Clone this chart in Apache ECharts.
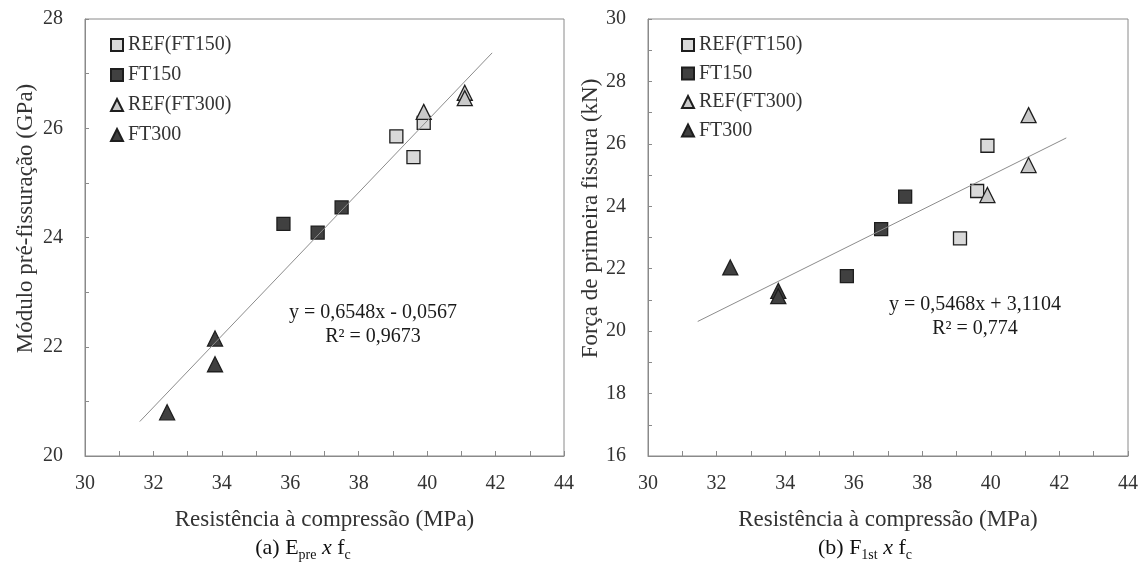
<!DOCTYPE html>
<html>
<head>
<meta charset="utf-8">
<script src="https://cdn.jsdelivr.net/npm/echarts@6/dist/echarts.min.js"></script>
<style>
html,body{margin:0;padding:0;background:#fff;}
#chart{width:1145px;height:562px;}
</style>
</head>
<body>
<div id="chart"></div>
<script>
// ---- data ----
const seriesNames = ['REF(FT150)', 'FT150', 'REF(FT300)', 'FT300'];

// (a) E_pre x f_c
const eRefFT150X = [39.1, 39.6, 39.9];
const eRefFT150Y = [25.85, 25.47, 26.10];
const eFT150X = [35.8, 36.8, 37.5];
const eFT150Y = [24.25, 24.09, 24.55];
const eRefFT300X = [39.9, 41.1, 41.1];
const eRefFT300Y = [26.30, 26.65, 26.55];
const eFT300X = [33.8, 33.8, 32.4];
const eFT300Y = [22.15, 21.68, 20.80];
const eTrendX = [31.6, 41.9];
const eTrendY = [20.63, 27.38];

// (b) F_1st x f_c
const fRefFT150X = [39.9, 39.6, 39.1];
const fRefFT150Y = [25.94, 24.49, 22.97];
const fFT150X = [37.5, 36.8, 35.8];
const fFT150Y = [24.31, 23.27, 21.76];
const fRefFT300X = [41.1, 41.1, 39.9];
const fRefFT300Y = [26.92, 25.32, 24.36];
const fFT300X = [32.4, 33.8, 33.8];
const fFT300Y = [22.04, 21.29, 21.12];
const fTrendX = [31.45, 42.2];
const fTrendY = [20.31, 26.19];

const xTicks = {min: 30, max: 44, step: 1};
const yTicksA = {min: 20, max: 28, step: 1};
const yTicksB = {min: 16, max: 30, step: 1};

const xTitle = 'Resistência à compressão (MPa)';
const yTitleA = 'Módulo pré-fissuração (GPa)';
const yTitleB = 'Força de primeira fissura (kN)';
const eqA = ['y = 0,6548x - 0,0567', 'R² = 0,9673'];
const eqB = ['y = 0,5468x + 3,1104', 'R² = 0,774'];

// ---- build ----
const FONT = 'Liberation Serif';
const AXIS_COLOR = '#8a8a8a';
const TEXT_COLOR = '#333333';

function zip(xs, ys){ return xs.map((x,i)=>[x, ys[i]]); }

const styles = {
  'REF(FT150)': {symbol:'rect', size:13, color:'#d9d9d9'},
  'FT150': {symbol:'rect', size:13, color:'#404040'},
  'REF(FT300)': {symbol:'triangle', size:15, color:'#c9c9c9'},
  'FT300': {symbol:'triangle', size:15, color:'#404040'}
};

function scatter(name, gi, xs, ys){
  const s = styles[name];
  return {
    type:'scatter', name:name, xAxisIndex:gi, yAxisIndex:gi,
    symbol:s.symbol, symbolSize:s.size,
    itemStyle:{color:s.color, borderColor:'#1e1e1e', borderWidth:1.3, opacity:1},
    data: zip(xs, ys), z:2
  };
}
function trend(gi, xs, ys){
  return {
    type:'line', name:'trend'+gi, xAxisIndex:gi, yAxisIndex:gi,
    symbol:'none', lineStyle:{color:'#8c8c8c', width:1},
    data: zip(xs, ys), z:5, silent:true
  };
}
function mkX(gi){
  return {
    type:'value', gridIndex:gi, min:xTicks.min, max:xTicks.max, interval:xTicks.step,
    axisLine:{show:true, lineStyle:{color:AXIS_COLOR, width:1}},
    axisTick:{show:true, inside:true, length:5, lineStyle:{color:AXIS_COLOR}},
    splitLine:{show:false},
    axisLabel:{formatter:v => (v % 2 === 0 ? String(v) : ''), color:TEXT_COLOR, fontFamily:FONT, fontSize:20, margin:18},
    name:xTitle, nameLocation:'middle', nameGap:52,
    nameTextStyle:{color:TEXT_COLOR, fontFamily:FONT, fontSize:23}
  };
}
function mkY(gi, t, title, gap){
  return {
    type:'value', gridIndex:gi, min:t.min, max:t.max, interval:t.step,
    axisLine:{show:true, lineStyle:{color:AXIS_COLOR, width:1}},
    axisTick:{show:true, inside:true, length:4, lineStyle:{color:AXIS_COLOR}},
    splitLine:{show:false},
    axisLabel:{formatter:v => (v % 2 === 0 ? String(v) : ''), color:TEXT_COLOR, fontFamily:FONT, fontSize:20, margin:22},
    name:title, nameLocation:'middle', nameGap:gap,
    nameTextStyle:{color:TEXT_COLOR, fontFamily:FONT, fontSize:23, padding:[0,0,0,38]}
  };
}
function mkLegend(left, gap){
  return {
    orient:'vertical', left:left, top:30, padding:5, itemGap:gap, itemWidth:12, itemHeight:12,
    textStyle:{color:TEXT_COLOR, fontFamily:FONT, fontSize:20},
    data:[
      {name:'REF(FT150)', icon:'rect'},
      {name:'FT150', icon:'rect'},
      {name:'REF(FT300)', icon:'triangle'},
      {name:'FT300', icon:'triangle'}
    ],
    selectedMode:false
  };
}
function eqText(cx, cy, lines){
  return {
    type:'text', x:cx, y:cy,
    style:{text:lines.join('\n'), fill:'#1a1a1a', font:'20px "Liberation Serif"', align:'center', verticalAlign:'middle', lineHeight:24}
  };
}
function caption(cx, cy, letter, main, sub){
  return {
    type:'text', x:cx, y:cy,
    style:{
      text:'{m|(' + letter + ') ' + main + '}{s|' + sub + '}{m| }{i|x}{m| f}{s|c}',
      align:'center', verticalAlign:'middle',
      rich:{
        m:{fontFamily:FONT, fontSize:22, fill:'#111', lineHeight:26, verticalAlign:'bottom'},
        i:{fontFamily:FONT, fontSize:22, fontStyle:'italic', fill:'#111', lineHeight:26, verticalAlign:'bottom'},
        s:{fontFamily:FONT, fontSize:14, fill:'#111', lineHeight:14, verticalAlign:'bottom', padding:[0,0,-3,0]}
      }
    }
  };
}

const chart = echarts.init(document.getElementById('chart'), null, {renderer:'canvas'});
chart.setOption({
  animation:false,
  backgroundColor:'#ffffff',
  grid:[
    {left:85, top:19, width:479, height:437, show:true, borderColor:AXIS_COLOR, borderWidth:1, backgroundColor:'transparent'},
    {left:648, top:19, width:480, height:437, show:true, borderColor:AXIS_COLOR, borderWidth:1, backgroundColor:'transparent'}
  ],
  xAxis:[mkX(0), mkX(1)],
  yAxis:[mkY(0, yTicksA, yTitleA, 48), mkY(1, yTicksB, yTitleB, 43)],
  legend:[mkLegend(105, 10), mkLegend(676, 8.5)],
  series:[
    scatter('REF(FT150)', 0, eRefFT150X, eRefFT150Y),
    scatter('FT150', 0, eFT150X, eFT150Y),
    scatter('REF(FT300)', 0, eRefFT300X, eRefFT300Y),
    scatter('FT300', 0, eFT300X, eFT300Y),
    trend(0, eTrendX, eTrendY),
    scatter('REF(FT150)', 1, fRefFT150X, fRefFT150Y),
    scatter('FT150', 1, fFT150X, fFT150Y),
    scatter('REF(FT300)', 1, fRefFT300X, fRefFT300Y),
    scatter('FT300', 1, fFT300X, fFT300Y),
    trend(1, fTrendX, fTrendY)
  ],
  graphic:[
    eqText(373, 325, eqA),
    eqText(975, 317, eqB),
    caption(303, 546, 'a', 'E', 'pre'),
    caption(865, 546, 'b', 'F', '1st')
  ]
});
</script>
</body>
</html>
